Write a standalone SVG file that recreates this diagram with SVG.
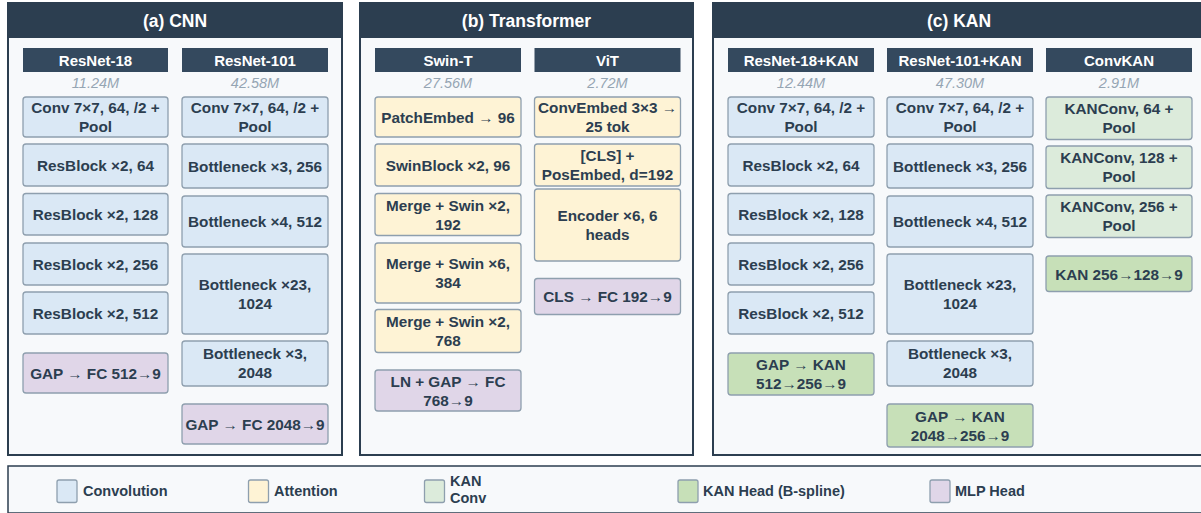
<svg xmlns="http://www.w3.org/2000/svg" width="1201" height="513" viewBox="0 0 1201 513">
<style>
.panel{fill:#f7f9fb;stroke:#2c3e50;stroke-width:2}
.title{fill:#2c3e50}
.ttxt{font-family:"Liberation Sans",Arial,sans-serif;font-weight:bold;font-size:17.5px;fill:#ffffff;text-anchor:middle;dominant-baseline:central}
.hdr{fill:#34495e}
.htxt{font-family:"Liberation Sans",Arial,sans-serif;font-weight:bold;font-size:15px;fill:#ffffff;text-anchor:middle;dominant-baseline:central}
.par{font-family:"Liberation Sans",Arial,sans-serif;font-style:italic;font-size:14.5px;fill:#95a5b3;text-anchor:middle;dominant-baseline:central}
.box{stroke:#8e9fae;stroke-width:1.3}
.conv{fill:#dae8f5}
.attn{fill:#fef3d5}
.kconv{fill:#dcebdb}
.khead{fill:#c7e0b8}
.mlp{fill:#e0d6e8}
.btxt{font-family:"Liberation Sans",Arial,sans-serif;font-weight:bold;font-size:15.3px;fill:#2c3e50;text-anchor:middle;dominant-baseline:central}
.ltxt{font-family:"Liberation Sans",Arial,sans-serif;font-weight:bold;font-size:14.5px;fill:#2c3e50;dominant-baseline:central}
.legend{fill:#f7f9fb;stroke:#2c3e50;stroke-width:1.5}
</style>

<!-- Panel (a) CNN -->
<g id="panel-a">
<rect class="panel" x="8" y="3" width="334" height="452"/>
<rect class="title" x="8" y="3" width="334" height="35"/>
<text class="ttxt" x="175" y="20.5">(a) CNN</text>
</g>
<g id="a-resnet18">
<rect class="hdr" x="23" y="48" width="145" height="24"/>
<text class="htxt" x="95.5" y="60">ResNet-18</text>
<text class="par" x="95.5" y="83">11.24M</text>
</g>
<g id="a-r18-conv"><rect class="box conv" x="23" y="97" width="145" height="40" rx="3"/><text class="btxt" x="95.5" y="107.5">Conv 7×7, 64, /2 +</text><text class="btxt" x="95.5" y="126.5">Pool</text></g>
<g id="a-r18-rb64"><rect class="box conv" x="23" y="144" width="145" height="42" rx="3"/><text class="btxt" x="95.5" y="165">ResBlock ×2, 64</text></g>
<g id="a-r18-rb128"><rect class="box conv" x="23" y="193.5" width="145" height="41.5" rx="3"/><text class="btxt" x="95.5" y="214.5">ResBlock ×2, 128</text></g>
<g id="a-r18-rb256"><rect class="box conv" x="23" y="243" width="145" height="42" rx="3"/><text class="btxt" x="95.5" y="264">ResBlock ×2, 256</text></g>
<g id="a-r18-rb512"><rect class="box conv" x="23" y="292" width="145" height="42" rx="3"/><text class="btxt" x="95.5" y="313">ResBlock ×2, 512</text></g>
<g id="a-r18-head"><rect class="box mlp" x="23" y="353" width="145" height="40" rx="3"/><text class="btxt" x="95.5" y="373">GAP → FC 512→9</text></g>

<g id="a-resnet101">
<rect class="hdr" x="182" y="48" width="146" height="24"/>
<text class="htxt" x="255" y="60">ResNet-101</text>
<text class="par" x="255" y="83">42.58M</text>
</g>
<g id="a-r101-conv"><rect class="box conv" x="182" y="97" width="146" height="40" rx="3"/><text class="btxt" x="255" y="107.5">Conv 7×7, 64, /2 +</text><text class="btxt" x="255" y="126.5">Pool</text></g>
<g id="a-r101-b256"><rect class="box conv" x="182" y="144" width="146" height="44" rx="3"/><text class="btxt" x="255" y="166">Bottleneck ×3, 256</text></g>
<g id="a-r101-b512"><rect class="box conv" x="182" y="196" width="146" height="51" rx="3"/><text class="btxt" x="255" y="221">Bottleneck ×4, 512</text></g>
<g id="a-r101-b1024"><rect class="box conv" x="182" y="254" width="146" height="80" rx="3"/><text class="btxt" x="255" y="284.5">Bottleneck ×23,</text><text class="btxt" x="255" y="303.5">1024</text></g>
<g id="a-r101-b2048"><rect class="box conv" x="182" y="341" width="146" height="45" rx="3"/><text class="btxt" x="255" y="353.5">Bottleneck ×3,</text><text class="btxt" x="255" y="372.5">2048</text></g>
<g id="a-r101-head"><rect class="box mlp" x="182" y="404" width="146" height="40" rx="3"/><text class="btxt" x="255" y="424">GAP → FC 2048→9</text></g>

<!-- Panel (b) Transformer -->
<g id="panel-b">
<rect class="panel" x="360" y="3" width="333" height="452"/>
<rect class="title" x="360" y="3" width="333" height="35"/>
<text class="ttxt" x="526.5" y="20.5">(b) Transformer</text>
</g>
<g id="b-swin">
<rect class="hdr" x="375" y="48" width="146" height="24"/>
<text class="htxt" x="448" y="60">Swin-T</text>
<text class="par" x="448" y="83">27.56M</text>
</g>
<g id="b-swin-patch"><rect class="box attn" x="375" y="97" width="146" height="40" rx="3"/><text class="btxt" x="448" y="117">PatchEmbed → 96</text></g>
<g id="b-swin-s1"><rect class="box attn" x="375" y="144" width="146" height="42" rx="3"/><text class="btxt" x="448" y="165">SwinBlock ×2, 96</text></g>
<g id="b-swin-s2"><rect class="box attn" x="375" y="193.5" width="146" height="42" rx="3"/><text class="btxt" x="448" y="205">Merge + Swin ×2,</text><text class="btxt" x="448" y="224">192</text></g>
<g id="b-swin-s3"><rect class="box attn" x="375" y="243" width="146" height="60" rx="3"/><text class="btxt" x="448" y="263.5">Merge + Swin ×6,</text><text class="btxt" x="448" y="282.5">384</text></g>
<g id="b-swin-s4"><rect class="box attn" x="375" y="309.5" width="146" height="43" rx="3"/><text class="btxt" x="448" y="321.5">Merge + Swin ×2,</text><text class="btxt" x="448" y="340.5">768</text></g>
<g id="b-swin-head"><rect class="box mlp" x="375" y="370" width="146" height="41" rx="3"/><text class="btxt" x="448" y="381">LN + GAP → FC</text><text class="btxt" x="448" y="400">768→9</text></g>

<g id="b-vit">
<rect class="hdr" x="534.5" y="48" width="146" height="24"/>
<text class="htxt" x="607.5" y="60">ViT</text>
<text class="par" x="607.5" y="83">2.72M</text>
</g>
<g id="b-vit-embed"><rect class="box attn" x="534.5" y="97" width="146" height="40" rx="3"/><text class="btxt" x="607.5" y="107.5">ConvEmbed 3×3 →</text><text class="btxt" x="607.5" y="126.5">25 tok</text></g>
<g id="b-vit-cls"><rect class="box attn" x="534.5" y="144" width="146" height="42" rx="3"/><text class="btxt" x="607.5" y="155.5">[CLS] +</text><text class="btxt" x="607.5" y="174.5">PosEmbed, d=192</text></g>
<g id="b-vit-enc"><rect class="box attn" x="534.5" y="189" width="146" height="72" rx="3"/><text class="btxt" x="607.5" y="215">Encoder ×6, 6</text><text class="btxt" x="607.5" y="234">heads</text></g>
<g id="b-vit-head"><rect class="box mlp" x="534.5" y="278.5" width="146" height="36" rx="3"/><text class="btxt" x="607.5" y="296.5">CLS → FC 192→9</text></g>

<!-- Panel (c) KAN -->
<g id="panel-c">
<rect class="panel" x="713" y="3" width="492" height="452"/>
<rect class="title" x="713" y="3" width="492" height="35"/>
<text class="ttxt" x="959" y="20.5">(c) KAN</text>
</g>
<g id="c-r18kan">
<rect class="hdr" x="728" y="48" width="146" height="24"/>
<text class="htxt" x="801" y="60">ResNet-18+KAN</text>
<text class="par" x="801" y="83">12.44M</text>
</g>
<g id="c-r18-conv"><rect class="box conv" x="728" y="97" width="146" height="40" rx="3"/><text class="btxt" x="801" y="107.5">Conv 7×7, 64, /2 +</text><text class="btxt" x="801" y="126.5">Pool</text></g>
<g id="c-r18-rb64"><rect class="box conv" x="728" y="144" width="146" height="42" rx="3"/><text class="btxt" x="801" y="165">ResBlock ×2, 64</text></g>
<g id="c-r18-rb128"><rect class="box conv" x="728" y="193.5" width="146" height="41.5" rx="3"/><text class="btxt" x="801" y="214.5">ResBlock ×2, 128</text></g>
<g id="c-r18-rb256"><rect class="box conv" x="728" y="243" width="146" height="42" rx="3"/><text class="btxt" x="801" y="264">ResBlock ×2, 256</text></g>
<g id="c-r18-rb512"><rect class="box conv" x="728" y="292" width="146" height="42" rx="3"/><text class="btxt" x="801" y="313">ResBlock ×2, 512</text></g>
<g id="c-r18-head"><rect class="box khead" x="728" y="353" width="146" height="42" rx="3"/><text class="btxt" x="801" y="364.5">GAP → KAN</text><text class="btxt" x="801" y="383.5">512→256→9</text></g>

<g id="c-r101kan">
<rect class="hdr" x="887" y="48" width="146" height="24"/>
<text class="htxt" x="960" y="60">ResNet-101+KAN</text>
<text class="par" x="960" y="83">47.30M</text>
</g>
<g id="c-r101-conv"><rect class="box conv" x="887" y="97" width="146" height="40" rx="3"/><text class="btxt" x="960" y="107.5">Conv 7×7, 64, /2 +</text><text class="btxt" x="960" y="126.5">Pool</text></g>
<g id="c-r101-b256"><rect class="box conv" x="887" y="144" width="146" height="44" rx="3"/><text class="btxt" x="960" y="166">Bottleneck ×3, 256</text></g>
<g id="c-r101-b512"><rect class="box conv" x="887" y="196" width="146" height="51" rx="3"/><text class="btxt" x="960" y="221">Bottleneck ×4, 512</text></g>
<g id="c-r101-b1024"><rect class="box conv" x="887" y="254" width="146" height="80" rx="3"/><text class="btxt" x="960" y="284.5">Bottleneck ×23,</text><text class="btxt" x="960" y="303.5">1024</text></g>
<g id="c-r101-b2048"><rect class="box conv" x="887" y="341" width="146" height="45" rx="3"/><text class="btxt" x="960" y="353.5">Bottleneck ×3,</text><text class="btxt" x="960" y="372.5">2048</text></g>
<g id="c-r101-head"><rect class="box khead" x="887" y="404" width="146" height="43" rx="3"/><text class="btxt" x="960" y="416">GAP → KAN</text><text class="btxt" x="960" y="435">2048→256→9</text></g>

<g id="c-convkan">
<rect class="hdr" x="1046" y="48" width="146" height="24"/>
<text class="htxt" x="1119" y="60">ConvKAN</text>
<text class="par" x="1119" y="83">2.91M</text>
</g>
<g id="c-ck-64"><rect class="box kconv" x="1046" y="97" width="146" height="42.5" rx="3"/><text class="btxt" x="1119" y="108.5">KANConv, 64 +</text><text class="btxt" x="1119" y="127.5">Pool</text></g>
<g id="c-ck-128"><rect class="box kconv" x="1046" y="146" width="146" height="42.5" rx="3"/><text class="btxt" x="1119" y="157.5">KANConv, 128 +</text><text class="btxt" x="1119" y="176.5">Pool</text></g>
<g id="c-ck-256"><rect class="box kconv" x="1046" y="195" width="146" height="42.5" rx="3"/><text class="btxt" x="1119" y="206.5">KANConv, 256 +</text><text class="btxt" x="1119" y="225.5">Pool</text></g>
<g id="c-ck-head"><rect class="box khead" x="1046" y="256" width="146" height="35.5" rx="3"/><text class="btxt" x="1119" y="274">KAN 256→128→9</text></g>

<g id="connectors"></g>

<!-- Legend -->
<g id="legend">
<rect class="legend" x="8" y="466" width="1200" height="47"/>
<rect class="box conv" x="57" y="480" width="20" height="22.5" rx="2"/>
<text class="ltxt" x="83" y="490.5">Convolution</text>
<rect class="box attn" x="248.5" y="480" width="20" height="22.5" rx="2"/>
<text class="ltxt" x="274" y="490.5">Attention</text>
<rect class="box kconv" x="424.5" y="480" width="20" height="22.5" rx="2"/>
<text class="ltxt" x="450" y="481">KAN</text>
<text class="ltxt" x="450" y="498">Conv</text>
<rect class="box khead" x="678" y="480" width="20" height="22.5" rx="2"/>
<text class="ltxt" x="703" y="490.5">KAN Head (B-spline)</text>
<rect class="box mlp" x="930" y="480" width="20" height="22.5" rx="2"/>
<text class="ltxt" x="955" y="490.5">MLP Head</text>
</g>
</svg>
